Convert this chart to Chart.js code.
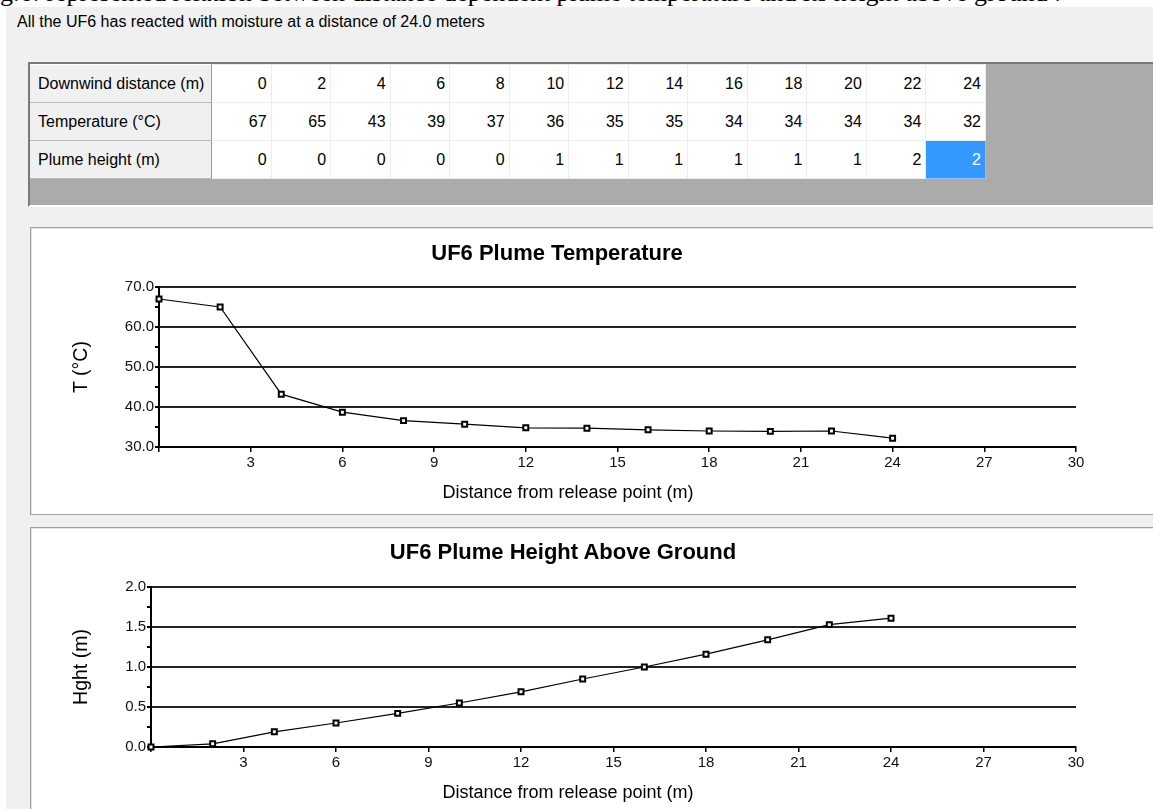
<!DOCTYPE html>
<html>
<head>
<meta charset="utf-8">
<script src="https://cdn.jsdelivr.net/npm/chart.js@4"></script>
<style>
  body { margin: 0; width: 1153px; height: 809px; overflow: hidden; background: #fff; position: relative; font-family: "Liberation Sans", Arial, sans-serif; }
  .abs { position: absolute; }
  #win { left: 6px; top: 7px; width: 1147px; height: 802px; background: #f0f0f0; }
  #fig { left: 0; top: -22px; font-family: "Liberation Serif", "Times New Roman", serif; font-size: 26px; white-space: nowrap; color: #000; }
  #msg { left: 17px; top: 13px; font-family: "Liberation Sans", sans-serif; font-size: 16px; color: #000; white-space: nowrap; }
  #grid { left: 28px; top: 62px; width: 1123px; height: 141px; background: #ababab; border-top: 2px solid #7a7a7a; border-left: 2px solid #7a7a7a; border-bottom: 2px solid #fff; }
  table { border-collapse: collapse; table-layout: fixed; width: 956px; font-family: "Liberation Sans", sans-serif; font-size: 16px; color: #000; }
  td { height: 37px; padding: 0 4px 0 7px; background: #fff; border: 1px solid #ececec; text-align: right; white-space: nowrap; overflow: hidden; }
  td.hd { background: #f0f0f0; text-align: left; border-right: 1px solid #9a9a9a; border-bottom: 1px solid #b8b8b8; border-top: 1px solid #fff; }
  td.sel { background: #3399ff; color: #fff; border: 1px solid #8cc2ff; }
  .panel { left: 30px; width: 1125px; background: #fff; border: 1px solid #a0a0a0; box-shadow: inset 1px 1px 0 #e3e3e3; }
  .ttl { font-family: "Liberation Sans", Arial, sans-serif; font-weight: bold; font-size: 22px; color: #000; white-space: nowrap; transform: translate(-50%, -50%); }
  .xt { font-family: "Liberation Sans", Arial, sans-serif; font-size: 18px; color: #000; white-space: nowrap; transform: translate(-50%, -50%); }
  .yt { font-family: "Liberation Sans", Arial, sans-serif; font-size: 19.5px; color: #000; white-space: nowrap; transform: translate(-50%, -50%) rotate(-90deg); }
  canvas { position: absolute; }
</style>
</head>
<body>
<div id="win" class="abs"></div>
<div id="fig" class="abs">g.6: represented relation between distance dependent plume temperature and its height above ground :</div>
<div id="msg" class="abs">All the UF6 has reacted with moisture at a distance of 24.0 meters</div>
<div id="grid" class="abs"><table id="tbl"></table></div>

<div class="abs panel" style="top:227px; height:286px;"></div>
<div class="abs panel" style="top:527px; height:300px;"></div>

<canvas id="tempChart" width="1121" height="283" style="left:32px; top:229px;"></canvas>
<canvas id="heightChart" width="1121" height="280" style="left:32px; top:529px;"></canvas>

<div class="abs ttl" style="left:557px; top:253px;">UF6 Plume Temperature</div>
<div class="abs xt" style="left:568px; top:492px;">Distance from release point (m)</div>
<div class="abs yt" style="left:80px; top:367px;">T (°C)</div>

<div class="abs ttl" style="left:563px; top:552px;">UF6 Plume Height Above Ground</div>
<div class="abs xt" style="left:568px; top:792px;">Distance from release point (m)</div>
<div class="abs yt" style="left:80px; top:667px;">Hght (m)</div>

<script>
// table values
var distances = [0, 2, 4, 6, 8, 10, 12, 14, 16, 18, 20, 22, 24];
var tableTemps = [67, 65, 43, 39, 37, 36, 35, 35, 34, 34, 34, 34, 32];
var tableHeights = [0, 0, 0, 0, 0, 1, 1, 1, 1, 1, 1, 2, 2];

// plotted values
var plotTemps = [67.0, 65.0, 43.2, 38.7, 36.6, 35.7, 34.8, 34.7, 34.3, 34.0, 33.9, 34.0, 32.2];
var plotHeights = [0.00, 0.04, 0.19, 0.30, 0.42, 0.55, 0.69, 0.85, 1.00, 1.16, 1.34, 1.53, 1.61];

var rowLabels = ['Downwind distance (m)', 'Temperature (°C)', 'Plume height (m)'];
var xTicks = [3, 6, 9, 12, 15, 18, 21, 24, 27, 30];

// build the table
var tbl = document.getElementById('tbl');
var cols = '<colgroup><col style="width:181px">';
for (var c = 0; c < distances.length; c++) cols += '<col>';
tbl.innerHTML = cols + '</colgroup>';
[distances, tableTemps, tableHeights].forEach(function (row, r) {
    var tr = document.createElement('tr');
    var html = '<td class="hd">' + rowLabels[r] + '</td>';
    row.forEach(function (v, i) {
        var sel = (r == 2 && i == row.length - 1) ? ' class="sel"' : '';
        html += '<td' + sel + '>' + v + '</td>';
    });
    tr.innerHTML = html;
    tbl.appendChild(tr);
});

function makeChart(id, values, yMin, yMax, yStep, yWidth, xHeight) {
    var ctx = document.getElementById(id).getContext('2d');
    return new Chart(ctx, {
        type: 'line',
        data: {
            datasets: [{
                data: distances.map(function (d, i) { return {x: d, y: values[i]}; }),
                borderColor: '#000',
                borderWidth: 1.2,
                pointStyle: 'rect',
                pointRadius: 3.5,
                pointBorderWidth: 2,
                pointBorderColor: '#000',
                pointBackgroundColor: '#fff',
                tension: 0,
                clip: false
            }]
        },
        options: {
            responsive: false,
            animation: false,
            events: [],
            layout: { padding: { left: 0, top: 58, right: 77, bottom: 0 } },
            plugins: { legend: { display: false }, tooltip: { enabled: false } },
            scales: {
                x: {
                    type: 'linear',
                    min: 0,
                    max: 30,
                    afterFit: function (s) { s.height = xHeight; },
                    afterBuildTicks: function (s) {
                        s.ticks = [{value: 0}].concat(xTicks.map(function (v) { return {value: v}; }));
                    },
                    ticks: {
                        autoSkip: false,
                        maxRotation: 0,
                        padding: 2,
                        color: '#111',
                        font: { family: 'Liberation Sans', size: 15 },
                        callback: function (v) { return v === 0 ? '' : v; }
                    },
                    grid: { drawOnChartArea: false, tickColor: '#000', tickLength: 5, lineWidth: 1.5 },
                    border: { color: '#000', width: 2 }
                },
                y: {
                    min: yMin,
                    max: yMax,
                    afterFit: function (s) { s.width = yWidth; },
                    ticks: {
                        stepSize: yStep / 2,
                        autoSkip: false,
                        padding: 1,
                        color: '#111',
                        font: { family: 'Liberation Sans', size: 15 },
                        callback: function (v) {
                            var k = Math.round((v - yMin) / (yStep / 2));
                            return k % 2 === 0 ? v.toFixed(1) : '';
                        }
                    },
                    grid: {
                        color: function (c) {
                            var k = Math.round((c.tick.value - yMin) / (yStep / 2));
                            return k % 2 === 0 ? '#222' : 'rgba(0,0,0,0)';
                        },
                        tickColor: '#000',
                        tickLength: 4,
                        lineWidth: 2
                    },
                    border: { color: '#000', width: 2 }
                }
            }
        }
    });
}

makeChart('tempChart', plotTemps, 30, 70, 10, 127, 65);
makeChart('heightChart', plotHeights, 0, 2, 0.5, 119, 62);
</script>
</body>
</html>
